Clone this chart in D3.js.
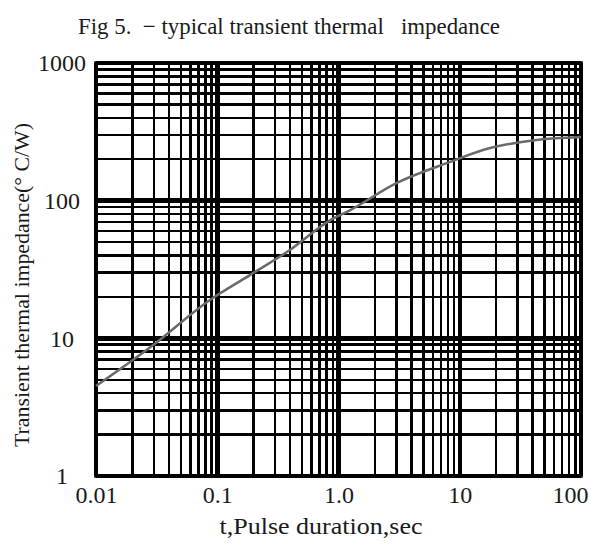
<!DOCTYPE html>
<html lang="en">
<head>
    <meta charset="utf-8">
    <title>Fig 5 - transient thermal impedance</title>
    <script src="https://d3js.org/d3.v7.min.js"></script>
    <style>
        html, body {
            margin: 0;
            padding: 0;
            background: white;
        }
        text {
            font-family: "Liberation Serif", "DejaVu Serif", serif;
            fill: #1a1a1a;
        }
        .title, .axis-title {
            font-size: 23px;
            white-space: pre;
        }
        .axis text {
            font-size: 24px;
        }
        .grid line {
            stroke: black;
            shape-rendering: crispEdges;
        }
        path.curve {
            fill: none;
            stroke: #6a6a6a;
            stroke-width: 2.5px;
        }
    </style>
</head>
<body>
<script type="text/javascript">

    // size of the picture
    var w = 591;
    var h = 545;
    var margin = {top: 63, right: 10, bottom: 69, left: 96};

    // axis ticks
    var xTicks = [0.01, 0.1, 1, 10, 100];
    var xTickLabels = ["0.01", "0.1", "1.0", "10", "100"];
    var yTicks = [1, 10, 100, 1000];
    var yTickLabels = ["1", "10", "100", "1000"];

    // curve
    var pulseDuration = [0.01, 0.028, 0.087, 0.186, 0.40, 0.85, 1.24, 3.0, 7.9, 17.8, 43, 100];
    var impedance = [4.5, 8.6, 19, 28.8, 44, 72, 85, 134, 188, 241, 276, 290];

    var titleText = "Fig 5.  \u2212 typical transient thermal   impedance";
    var xTitle = "t,Pulse duration,sec";
    var yTitle = "Transient thermal impedance(\u00b0 C/W)";

    var plotW = w - margin.left - margin.right;
    var plotH = h - margin.top - margin.bottom;

    var xScale = d3.scaleLog()
        .domain([xTicks[0], xTicks[xTicks.length - 1]])
        .range([0, plotW]);

    var yScale = d3.scaleLog()
        .domain([yTicks[0], yTicks[yTicks.length - 1]])
        .range([plotH, 0]);

    var svg = d3.select("body")
        .append("svg")
        .attr("width", w)
        .attr("height", h);

    svg.append("rect")
        .attr("width", w)
        .attr("height", h)
        .attr("fill", "white");

    var g = svg.append("g")
        .attr("transform", "translate(" + margin.left + "," + margin.top + ")");

    var isDecade = function(v) {
        var l = Math.log10(v);
        return Math.abs(l - Math.round(l)) < 1e-6;
    };

    //grid lines, minor and decade
    var grid = g.append("g").attr("class", "grid");

    grid.selectAll("line.v")
        .data(xScale.ticks())
        .enter()
        .append("line")
        .attr("class", "v")
        .attr("x1", function(d) { return xScale(d); })
        .attr("x2", function(d) { return xScale(d); })
        .attr("y1", 0)
        .attr("y2", plotH)
        .attr("stroke-width", function(d) { return isDecade(d) ? 4.5 : 2.5; });

    grid.selectAll("line.h")
        .data(yScale.ticks())
        .enter()
        .append("line")
        .attr("class", "h")
        .attr("x1", 0)
        .attr("x2", plotW)
        .attr("y1", function(d) { return yScale(d); })
        .attr("y2", function(d) { return yScale(d); })
        .attr("stroke-width", function(d) { return isDecade(d) ? 4.5 : 2.5; });

    // frame
    g.append("rect")
        .attr("width", plotW)
        .attr("height", plotH)
        .attr("fill", "none")
        .attr("stroke", "black")
        .attr("stroke-width", 3.5);

    // the curve
    var points = pulseDuration.map(function(t, i) { return [t, impedance[i]]; });

    var line = d3.line()
        .x(function(d) { return xScale(d[0]); })
        .y(function(d) { return yScale(d[1]); })
        .curve(d3.curveMonotoneX);

    g.append("path")
        .datum(points)
        .attr("class", "curve")
        .attr("d", line);

    //Define axes
    var xAxis = d3.axisBottom(xScale)
        .tickValues(xTicks)
        .tickFormat(function(d, i) { return xTickLabels[i]; })
        .tickSize(0)
        .tickPadding(10);

    var yAxis = d3.axisLeft(yScale)
        .tickValues(yTicks)
        .tickFormat(function(d, i) { return yTickLabels[i]; })
        .tickSize(0)
        .tickPadding(34);

    var gx = g.append("g")
        .attr("class", "axis")
        .attr("transform", "translate(0," + plotH + ")")
        .call(xAxis);
    gx.select(".domain").remove();
    gx.selectAll("text").attr("fill", "#1a1a1a");
    // last label kept inside the picture
    gx.selectAll("text")
        .filter(function(d, i) { return i === xTicks.length - 1; })
        .attr("text-anchor", "end")
        .attr("dx", 7);

    var gy = g.append("g")
        .attr("class", "axis")
        .call(yAxis);
    gy.select(".domain").remove();
    gy.selectAll("text")
        .attr("text-anchor", "middle")
        .attr("fill", "#1a1a1a");

    // titles
    svg.append("text")
        .attr("class", "title")
        .attr("x", 289)
        .attr("y", 34)
        .attr("text-anchor", "middle")
        .attr("textLength", 422)
        .attr("lengthAdjust", "spacingAndGlyphs")
        .text(titleText);

    svg.append("text")
        .attr("class", "axis-title")
        .attr("x", 321)
        .attr("y", 534)
        .attr("text-anchor", "middle")
        .attr("textLength", 203)
        .attr("lengthAdjust", "spacingAndGlyphs")
        .text(xTitle);

    svg.append("text")
        .attr("class", "axis-title")
        .attr("transform", "translate(29,285) rotate(-90)")
        .attr("text-anchor", "middle")
        .attr("textLength", 324)
        .attr("lengthAdjust", "spacingAndGlyphs")
        .style("font-size", "21px")
        .text(yTitle);

    d3.selectAll(".axis text").attr("font-family", null).attr("font-size", null);

</script>
</body>
</html>
